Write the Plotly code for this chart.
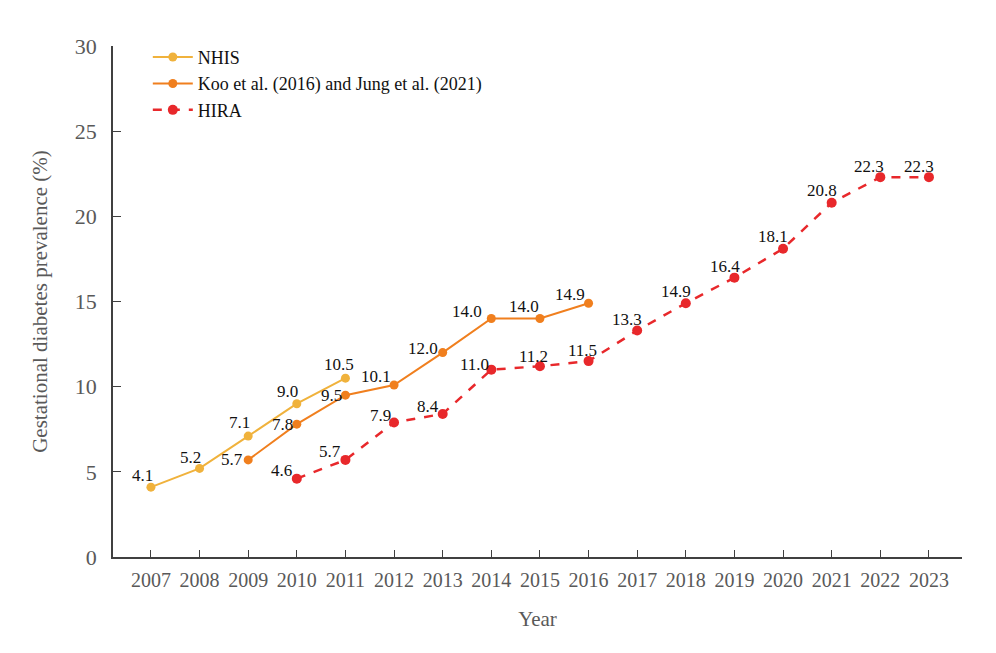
import plotly.graph_objects as go

years = list(range(2007, 2024))

nhis_years = [2007, 2008, 2009, 2010, 2011]
nhis_vals = [4.1, 5.2, 7.1, 9.0, 10.5]

koo_years = [2009, 2010, 2011, 2012, 2013, 2014, 2015, 2016]
koo_vals = [5.7, 7.8, 9.5, 10.1, 12.0, 14.0, 14.0, 14.9]

hira_years = list(range(2010, 2024))
hira_vals = [4.6, 5.7, 7.9, 8.4, 11.0, 11.2, 11.5, 13.3, 14.9, 16.4, 18.1, 20.8, 22.3, 22.3]

# label offsets in pixels (style only)
nhis_off = [(-8, 12), (-9, 11), (-9, 14), (-9, 12), (-6, 14)]
koo_off = [(-16, 0), (-14, 0), (-14, 0), (-18, 8), (-20, 4), (-24, 7), (-16, 12), (-19, 9)]
hira_off = [(-15, 8), (-15, 8), (-14, 7), (-15, 7), (-17, 5), (-6, 10), (-6, 11), (-10, 11),
            (-10, 12), (-9, 11), (-10, 12), (-10, 12), (-11, 11), (-10, 11)]

FONT = "Liberation Serif"
lblfont = dict(family=FONT, size=17, color="#111111")

fig = go.Figure()
fig.add_trace(go.Scatter(
    x=nhis_years, y=nhis_vals, name="NHIS", mode="lines+markers",
    line=dict(color="#F0B23C", width=2), marker=dict(size=9, color="#F0B23C")))
fig.add_trace(go.Scatter(
    x=koo_years, y=koo_vals, name="Koo et al. (2016) and Jung et al. (2021)", mode="lines+markers",
    line=dict(color="#F07F1E", width=2), marker=dict(size=9, color="#F07F1E")))
fig.add_trace(go.Scatter(
    x=hira_years, y=hira_vals, name="HIRA", mode="lines+markers",
    line=dict(color="#E8282B", width=2.5, dash="dash"), marker=dict(size=10, color="#E8282B")))

annotations = []
for xs, ys, offs in [(nhis_years, nhis_vals, nhis_off), (koo_years, koo_vals, koo_off),
                     (hira_years, hira_vals, hira_off)]:
    for x, y, (dx, dy) in zip(xs, ys, offs):
        annotations.append(dict(x=x, y=y, xref="x", yref="y", text=f"{y:.1f}", showarrow=False,
                                xanchor="center", yanchor="middle", xshift=dx, yshift=dy,
                                font=lblfont))

fig.update_layout(
    width=996, height=653,
    paper_bgcolor="white", plot_bgcolor="white",
    margin=dict(l=105, r=42, t=38, b=104),
    font=dict(family=FONT, color="#595959"),
    showlegend=True,
    annotations=annotations,
    legend=dict(x=0.041, y=1.014, xanchor="left", yanchor="top",
                font=dict(family=FONT, size=18, color="#111111"),
                bgcolor="rgba(0,0,0,0)", tracegroupgap=0, itemwidth=40),
    xaxis=dict(
        range=[2006.22, 2023.68], tickmode="array", tickvals=years,
        ticktext=[str(y) for y in years],
        showgrid=False, zeroline=False, showline=True, linecolor="#404040", linewidth=1.5,
        ticks="inside", ticklen=7, tickcolor="#404040", automargin=False, ticklabelstandoff=4,
        tickfont=dict(family=FONT, size=20, color="#595959"),
        title=dict(text="Year", font=dict(family=FONT, size=21, color="#595959"), standoff=22)),
    yaxis=dict(
        range=[0, 30], tickmode="array", tickvals=[0, 5, 10, 15, 20, 25, 30],
        showgrid=False, zeroline=False, showline=True, linecolor="#404040", linewidth=1.5,
        ticks="inside", ticklen=8, tickcolor="#404040", automargin=False, ticklabelstandoff=10,
        tickfont=dict(family=FONT, size=22, color="#595959"),
        title=dict(text="Gestational diabetes prevalence (%)", font=dict(family=FONT, size=21, color="#595959"), standoff=21)),
)

fig.write_html("out.html")
